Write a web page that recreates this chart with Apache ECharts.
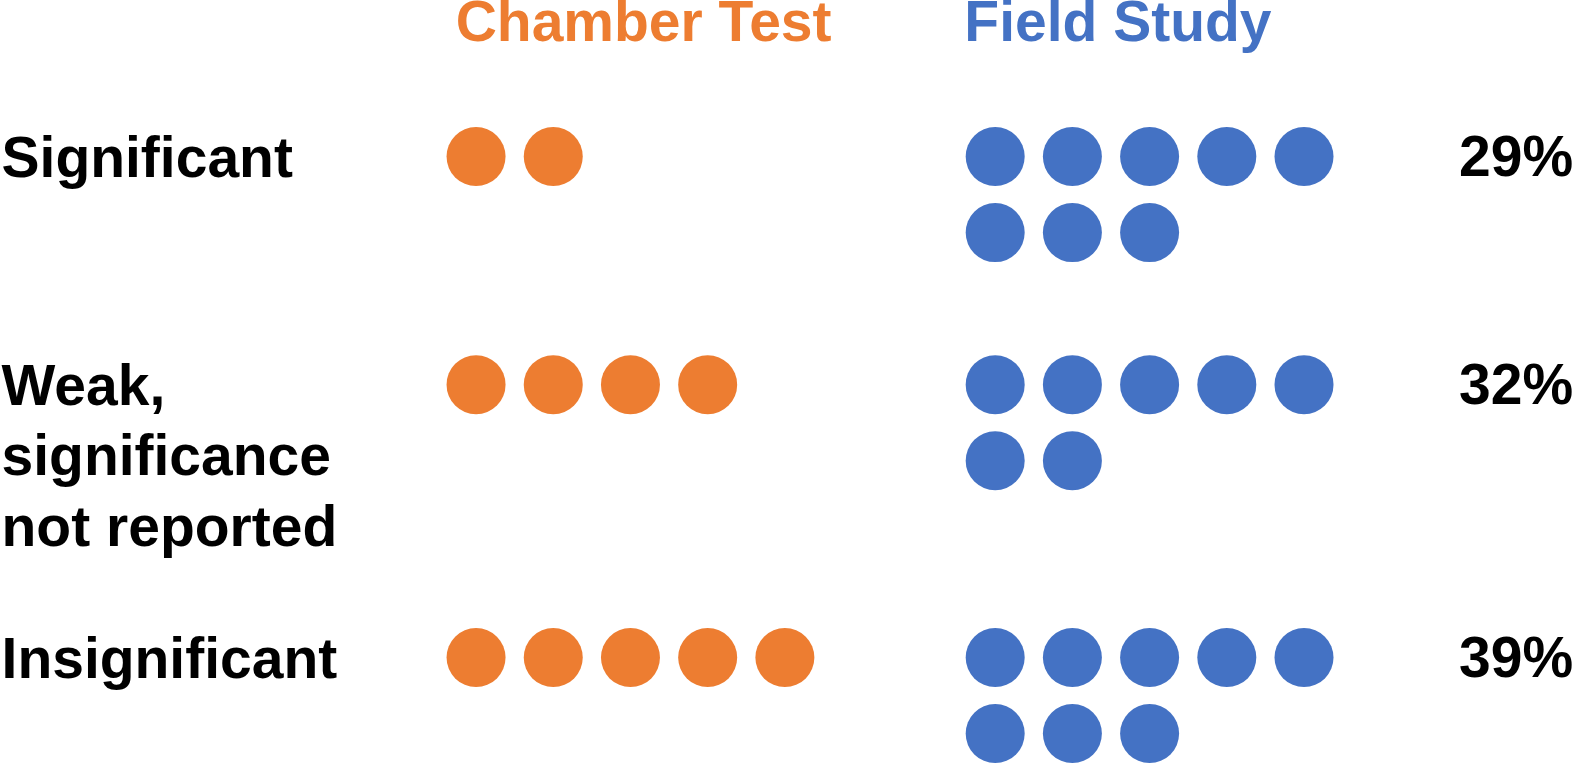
<!DOCTYPE html>
<html>
<head>
<meta charset="utf-8">
<script src="https://cdn.jsdelivr.net/npm/echarts@6/dist/echarts.min.js"></script>
<style>
  html, body { margin: 0; padding: 0; background: #ffffff; }
  #chart { width: 1575px; height: 764px; }
</style>
</head>
<body>
<div id="chart"></div>
<script>
// ---- data ----
const categories = ['Significant', 'Weak,\nsignificance\nnot reported', 'Insignificant'];
const studyNames = ['Chamber Test', 'Field Study'];
const chamberCounts = [2, 4, 5];
const fieldCounts = [8, 7, 8];
const shareLabels = ['29%', '32%', '39%'];

// ---- layout (axis units: one column / one row of dots) ----
const perRow = 5;
const catRowY = [2.06, 5.06, 8.65];
const titleRowY = 0.335;
const studyStartX = [6.166, 12.89];
const studyTitleX = [8.336, 14.48];
const labelX = 0.02;
const shareX = 20.375;
const colors = ['#ED7D31', '#4472C4'];
const font = "'Liberation Sans', Arial, Helvetica, sans-serif";

function dots(counts, startX) {
  const out = [];
  counts.forEach((n, c) => {
    for (let k = 0; k < n; k++) {
      out.push([startX + (k % perRow), catRowY[c] + Math.floor(k / perRow)]);
    }
  });
  return out;
}

const chart = echarts.init(document.getElementById('chart'));
chart.setOption({
  animation: false,
  backgroundColor: '#ffffff',
  grid: { left: 0, right: 0, top: 0, bottom: 0 },
  xAxis: { type: 'value', min: 0, max: 20.4, show: false },
  yAxis: { type: 'value', min: 0, max: 10.05, inverse: true, show: false },
  series: [
    {
      type: 'scatter', name: studyNames[0], symbol: 'circle', symbolSize: 59,
      itemStyle: { color: colors[0], opacity: 1 }, data: dots(chamberCounts, studyStartX[0])
    },
    {
      type: 'scatter', name: studyNames[1], symbol: 'circle', symbolSize: 59,
      itemStyle: { color: colors[1], opacity: 1 }, data: dots(fieldCounts, studyStartX[1])
    },
    {
      type: 'scatter', symbolSize: 0, clip: false, silent: true,
      itemStyle: { opacity: 1 },
      data: categories.map((name, i) => ({ name, value: [labelX, catRowY[i]] })),
      label: {
        show: true, position: [0, 0], formatter: '{b}', align: 'left', verticalAlign: 'top',
        offset: [0, -31], lineHeight: 70.5,
        fontFamily: font, fontWeight: 'bold', fontSize: 57, color: '#000000'
      }
    },
    {
      type: 'scatter', symbolSize: 0, clip: false, silent: true,
      itemStyle: { opacity: 1 },
      data: shareLabels.map((name, i) => ({ name, value: [shareX, catRowY[i]] })),
      label: {
        show: true, position: [0, 0], formatter: '{b}', align: 'right', verticalAlign: 'middle',
        offset: [0, 4],
        fontFamily: font, fontWeight: 'bold', fontSize: 57, color: '#000000'
      }
    },
    {
      type: 'scatter', symbolSize: 0, clip: false, silent: true,
      itemStyle: { opacity: 1 },
      data: studyNames.map((name, i) => ({
        name, value: [studyTitleX[i], titleRowY], label: { color: colors[i] }
      })),
      label: {
        show: true, position: [0, 0], formatter: '{b}', align: 'center', verticalAlign: 'middle',
        fontFamily: font, fontWeight: 'bold', fontSize: 57
      }
    }
  ]
});
</script>
</body>
</html>
